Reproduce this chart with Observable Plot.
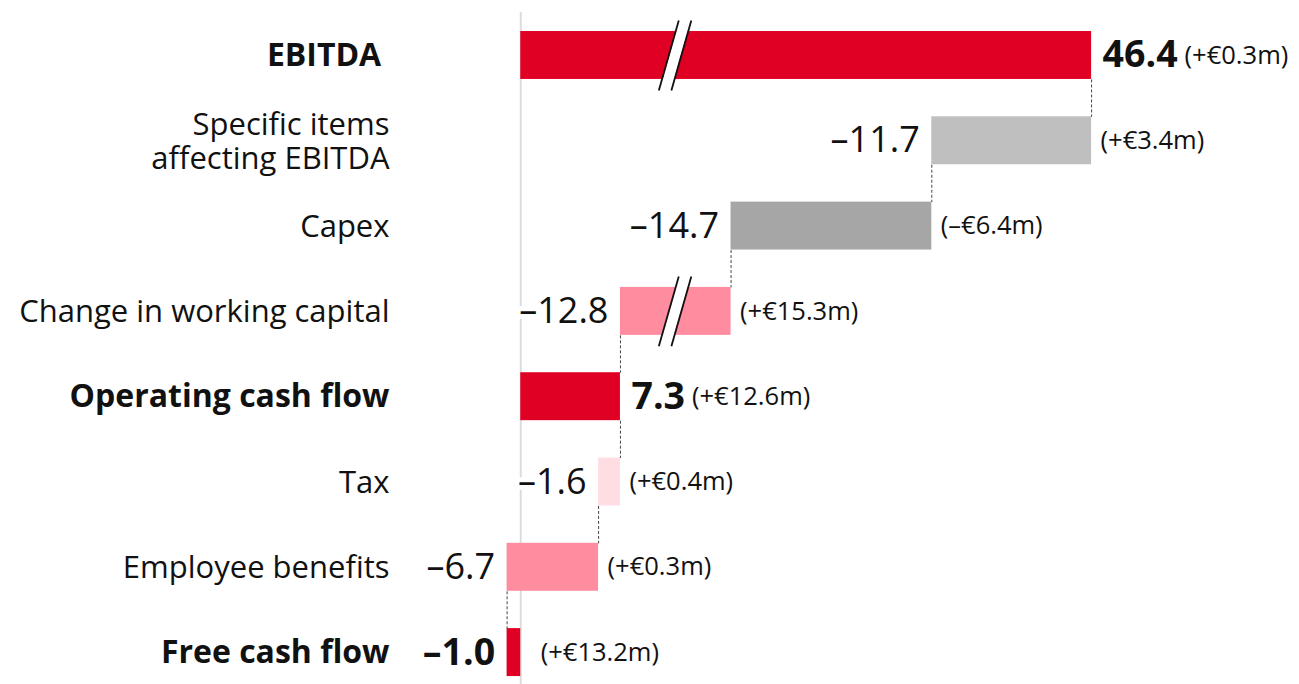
<!DOCTYPE html>
<html>
<head>
<meta charset="utf-8">
<script src="https://cdn.jsdelivr.net/npm/d3@7"></script>
<script src="https://cdn.jsdelivr.net/npm/@observablehq/plot@0.6"></script>
<style>
  html, body { margin: 0; padding: 0; background: #fff; }
  svg { display: block; }
</style>
</head>
<body>
<div id="chart"></div>
<script>
// ---- data ----
const categories = [
  "EBITDA\u00a0",
  "Specific items\naffecting EBITDA",
  "Capex",
  "Change in working capital",
  "Operating cash flow",
  "Tax",
  "Employee benefits",
  "Free cash flow"
];
const values = [46.4, -11.7, -14.7, -12.8, 7.3, -1.6, -6.7, -1.0];
const changeLabels = ["(+€0.3m)", "(+€3.4m)", "(–€6.4m)", "(+€15.3m)", "(+€12.6m)", "(+€0.4m)", "(+€0.3m)", "(+€13.2m)"];
const isTotal = [true, false, false, false, true, false, false, true];
const kinds = ["total", "specific", "capex", "workingCapital", "total", "tax", "benefits", "total"];
// amount of each bar hidden by the "//" axis break
const hiddenByBreak = [4.6, 0, 0, 4.7, 0, 0, 0, 0];
const breakValue = 11.3; // where the "//" sits on the value axis

// ---- waterfall layout ----
let running = 0;
const rows = categories.map((cat, i) => {
  const v = values[i];
  const shown = Math.sign(v) * (Math.abs(v) - hiddenByBreak[i]);
  let x1, x2;
  if (isTotal[i]) { x1 = 0; x2 = shown; }
  else { x1 = running; x2 = running + shown; }
  running = x2;
  return {
    i, cat, value: v, change: changeLabels[i], total: isTotal[i], kind: kinds[i],
    x1, x2, lo: Math.min(x1, x2), hi: Math.max(x1, x2), broken: hiddenByBreak[i] > 0
  };
});
const half = 0.281;
const connectors = rows.slice(0, -1).map((d, k) => ({x: d.x2, y1: d.i + half, y2: rows[k + 1].i - half}));
const breaks = rows.filter(d => d.broken);

const fmt = v => (v < 0 ? "–" : "") + Math.abs(v).toFixed(1);
const ink = "#111";
const font = "'Open Sans', sans-serif";
const labelSize = 31, boldLabelSize = 32, valueSize = 36, totalSize = 37.5, changeSize = 25.5;

const ctx = document.createElement("canvas").getContext("2d");
function textWidth(str, weight, size) {
  ctx.font = `${weight} ${size}px 'Open Sans', sans-serif`;
  return ctx.measureText(str).width;
}

const deltas = rows.filter(d => !d.total);
const totalsPos = rows.filter(d => d.total && d.value >= 0);
const totalsNeg = rows.filter(d => d.total && d.value < 0);
const boldCats = new Set([0, 4, 7]);

const chart = Plot.plot({
  width: 1299,
  height: 684,
  marginTop: 12,
  marginBottom: 0,
  marginLeft: 411,
  marginRight: 14,
  style: {fontFamily: font, background: "#fff", overflow: "visible"},
  x: {domain: [-8, 56], axis: null},
  y: {domain: [-0.504, 7.374], reverse: true, axis: null},
  color: {
    domain: ["total", "specific", "capex", "workingCapital", "tax", "benefits"],
    range: ["#e00024", "#bfbfbf", "#a6a6a6", "#ff8c9f", "#ffdde3", "#ff8c9f"]
  },
  marks: [
    Plot.ruleX([0], {stroke: "#dcdcdc", strokeWidth: 2}),
    Plot.rect(rows, {x1: "x1", x2: "x2", y1: d => d.i - half, y2: d => d.i + half, fill: "kind"}),
    // axis-break symbol
    Plot.link(breaks, {x1: () => breakValue - 0.73, x2: () => breakValue + 0.73, y1: d => d.i + 0.41, y2: d => d.i - 0.41, stroke: "#fff", strokeWidth: 11}),
    Plot.link(breaks, {x1: () => breakValue - 0.73 - 0.46, x2: () => breakValue + 0.73 - 0.46, y1: d => d.i + 0.41, y2: d => d.i - 0.41, stroke: "#111", strokeWidth: 1.8}),
    Plot.link(breaks, {x1: () => breakValue - 0.73 + 0.46, x2: () => breakValue + 0.73 + 0.46, y1: d => d.i + 0.41, y2: d => d.i - 0.41, stroke: "#111", strokeWidth: 1.8}),
    // connectors
    Plot.link(connectors, {x1: "x", x2: "x", y1: "y1", y2: "y2", stroke: "#444", strokeWidth: 1, strokeDasharray: "3,2"}),
    // category labels
    Plot.text(rows.filter(d => !boldCats.has(d.i)), {y: "i", text: "cat", frameAnchor: "left", dx: -22, textAnchor: "end", fontSize: labelSize, fill: ink, lineHeight: 1.1}),
    Plot.text(rows.filter(d => boldCats.has(d.i)), {y: "i", text: "cat", frameAnchor: "left", dx: -22, textAnchor: "end", fontSize: boldLabelSize, fontWeight: 700, fill: ink}),
    // delta values and changes
    Plot.text(deltas, {x: "lo", y: "i", text: d => fmt(d.value), textAnchor: "end", dx: -12, fontSize: valueSize, fill: ink, stroke: "#fff", strokeWidth: 10}),
    Plot.text(deltas, {x: "hi", y: "i", text: "change", textAnchor: "start", dx: 9, fontSize: changeSize, fill: ink}),
    // totals (positive): bold value, then the change right after it
    Plot.text(totalsPos, {x: "hi", y: "i", text: d => fmt(d.value), textAnchor: "start", dx: 11, fontSize: totalSize, fontWeight: 700, fill: ink}),
    ...totalsPos.map(d => Plot.text([d], {
      x: "hi", y: "i", text: "change", textAnchor: "start",
      dx: 11 + textWidth(fmt(d.value), 700, totalSize) + 7,
      fontSize: changeSize, fill: ink
    })),
    // totals (negative)
    Plot.text(totalsNeg, {x: "lo", y: "i", text: d => fmt(d.value), textAnchor: "end", dx: -12, fontSize: totalSize, fontWeight: 700, fill: ink, stroke: "#fff", strokeWidth: 10}),
    Plot.text(totalsNeg, {x: "hi", y: "i", text: "change", textAnchor: "start", dx: 20, fontSize: changeSize, fill: ink})
  ]
});

document.getElementById("chart").appendChild(chart);
</script>
</body>
</html>
